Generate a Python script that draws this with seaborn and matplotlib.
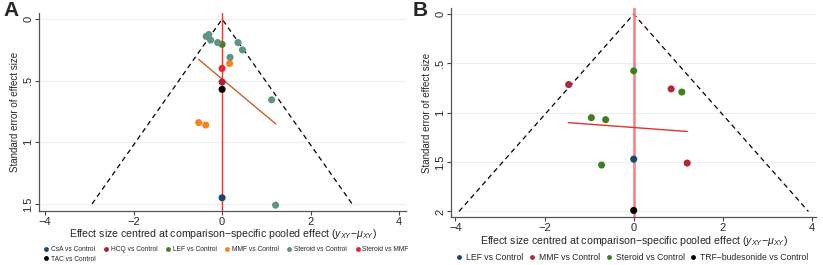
import numpy as np
import pandas as pd
import seaborn as sns
import matplotlib.pyplot as plt
from matplotlib.lines import Line2D

# ---- panel A data ----
a_groups = ["CsA vs Control", "HCQ vs Control", "LEF vs Control", "MMF vs Control",
            "Steroid vs Control", "Steroid vs MMF", "TAC vs Control"]
a_colors = ["#1a476f", "#a32638", "#4a7d25", "#f7831f", "#5f9384", "#e8262a", "#000000"]
a_effect = [0.0, 0.0, 0.0, 0.17, -0.53, -0.37,
            -0.36, -0.30, -0.26, -0.10, 0.36, 0.46, 0.18, 1.12, 1.21,
            0.0, 0.0]
a_se = [1.45, 0.51, 0.205, 0.36, 0.84, 0.86,
        0.14, 0.125, 0.17, 0.19, 0.19, 0.25, 0.31, 0.655, 1.51,
        0.40, 0.57]
a_label = ["CsA vs Control", "HCQ vs Control", "LEF vs Control",
           "MMF vs Control", "MMF vs Control", "MMF vs Control"] + \
          ["Steroid vs Control"] * 9 + ["Steroid vs MMF", "TAC vs Control"]
a_fit_x = [-0.53, 1.215]
a_fit_se = [0.327, 0.851]
a_se_max = 1.5

# ---- panel B data ----
b_groups = ["LEF vs Control", "MMF vs Control", "Steroid vs Control", "TRF\u2212budesonide vs Control"]
b_colors = ["#1a476f", "#b0283a", "#3f7f1f", "#000000"]
b_effect = [0.0, -1.46, 0.84, 1.20, 0.0, 1.08, -0.95, -0.63, -0.72, 0.0]
b_se = [1.47, 0.714, 0.758, 1.51, 0.575, 0.79, 1.05, 1.07, 1.53, 1.99]
b_label = ["LEF vs Control"] + ["MMF vs Control"] * 3 + ["Steroid vs Control"] * 5 + \
          ["TRF\u2212budesonide vs Control"]
b_fit_x = [-1.47, 1.20]
b_fit_se = [1.10, 1.19]
b_se_max = 2.0

sns.set_theme(style="white")
plt.rcParams["font.family"] = ["Liberation Sans", "DejaVu Sans"]
plt.rcParams["mathtext.fontset"] = "custom"
plt.rcParams["mathtext.rm"] = "Liberation Sans"
plt.rcParams["mathtext.it"] = "Liberation Sans:italic"

XLABEL = "Effect size centred at comparison\u2212specific pooled effect ($y_{XY}$\u2212$\\mu_{XY}$)"


def FunnelPanel(ax, effect, se, labels, groups, colors, fit_x, fit_se, se_max,
                xlim, ylim, yticks, yticklabels, vcolor, vwidth, fitcolor):
    df = pd.DataFrame({"effect": effect, "se": se, "group": labels})
    for t in yticks:
        ax.axhline(t, color="#e6f0f1", lw=0.8, zorder=0)
    ax.plot([-1.96 * se_max, 0, 1.96 * se_max], [se_max, 0, se_max],
            color="black", ls=(0, (4, 3)), lw=0.9, zorder=1)
    ax.axvline(0, color=vcolor, lw=vwidth, zorder=1)
    sns.lineplot(x=fit_x, y=fit_se, ax=ax, color=fitcolor, lw=1, zorder=2)
    sns.scatterplot(data=df, x="effect", y="se", hue="group", hue_order=groups,
                    palette=dict(zip(groups, colors)), s=26, linewidth=0,
                    ax=ax, zorder=3, legend=False)
    ax.set_xlim(*xlim)
    ax.set_ylim(*ylim)
    ax.set_xticks([-4, -2, 0, 2, 4])
    ax.set_xticklabels(["\u22124", "\u22122", "0", "2", "4"])
    ax.set_yticks(yticks)
    ax.set_yticklabels(yticklabels, rotation=90, va="center")
    ax.tick_params(axis="both", length=3, width=0.8, pad=1.2, labelsize=8,
                   color="#444444", direction="out", bottom=True, left=True)
    for s in ["top", "right"]:
        ax.spines[s].set_visible(False)
    for s in ["left", "bottom"]:
        ax.spines[s].set_color("#555555")
        ax.spines[s].set_linewidth(0.9)
    ax.set_xlabel(XLABEL, fontsize=7.6, labelpad=0.5)
    ax.set_ylabel("Standard error of effect size", fontsize=7.0, labelpad=2)


fig = plt.figure(figsize=(8.23, 2.65), dpi=100)
axA = fig.add_axes([0.0474, 0.204, 0.446, 0.747])
axB = fig.add_axes([0.548, 0.180, 0.444, 0.789])

FunnelPanel(axA, a_effect, a_se, a_label, a_groups, a_colors, a_fit_x, a_fit_se, a_se_max,
            (-4.14, 4.16), (1.557, -0.05), [0, 0.5, 1, 1.5], ["0", ".5", "1", "1.5"],
            "#ff2a2a", 1.0, "#c8602a")
FunnelPanel(axB, b_effect, b_se, b_label, b_groups, b_colors, b_fit_x, b_fit_se, b_se_max,
            (-4.1, 4.1), (2.06, -0.06), [0, 0.5, 1, 1.5, 2], ["0", ".5", "1", "1.5", "2"],
            "#ff7b7b", 1.8, "#e53030")


def Handles(groups, colors):
    return [Line2D([], [], ls="none", marker="o", markersize=3.5, markeredgewidth=0,
                   color=c, label=g) for g, c in zip(groups, colors)]


# legend fills column-major: put TAC second so it lands under CsA
hA = Handles(a_groups, a_colors)
hA = [hA[0], hA[6]] + hA[1:6]
axA.legend(handles=hA, loc="upper left", ncol=6,
           bbox_to_anchor=(0.052, 0.07), bbox_transform=fig.transFigure,
           frameon=False, fontsize=4.8, borderpad=0, borderaxespad=0,
           handletextpad=0.2, columnspacing=1.1, handlelength=1.0, labelspacing=0.35)
axB.legend(handles=Handles(b_groups, b_colors), loc="upper left", ncol=4,
           bbox_to_anchor=(0.553, 0.047), bbox_transform=fig.transFigure,
           frameon=False, fontsize=6.2, borderpad=0, borderaxespad=0,
           handletextpad=0.3, columnspacing=0.5, handlelength=1.0)

fig.text(0.004, 0.995, "A", fontsize=15, fontweight="bold", va="top", ha="left")
fig.text(0.501, 0.995, "B", fontsize=15, fontweight="bold", va="top", ha="left")

fig.savefig("out.png", dpi=100)
